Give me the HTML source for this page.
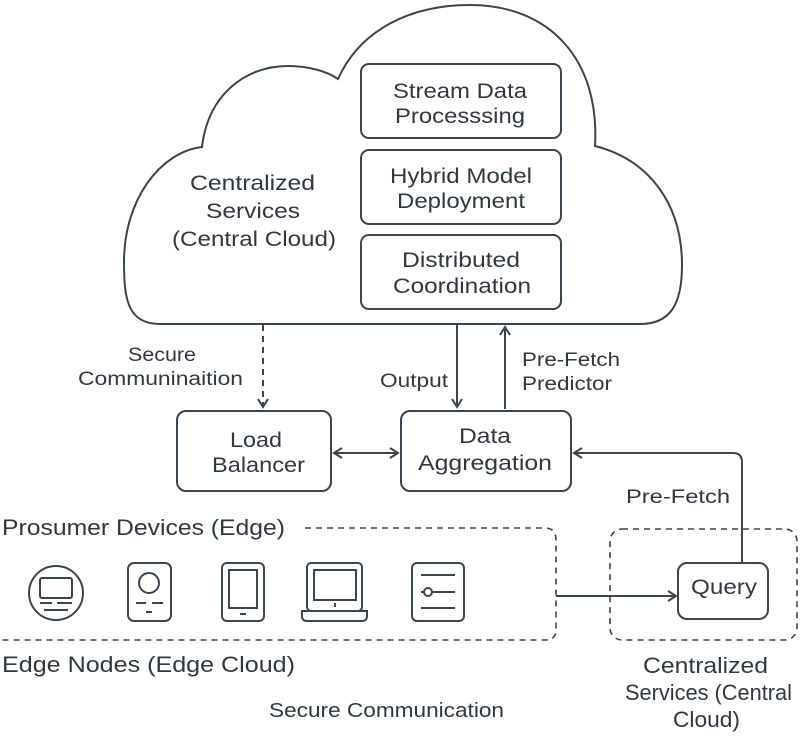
<!DOCTYPE html>
<html><head><meta charset="utf-8"><style>
html,body{margin:0;padding:0;background:#fff}
svg{display:block}
text{font-family:"Liberation Sans",sans-serif;fill:#2f3a40}
</style></head><body>
<svg width="800" height="739" viewBox="0 0 800 739" xmlns="http://www.w3.org/2000/svg">
<defs>
<marker id="a" markerWidth="12" markerHeight="12" refX="10" refY="6" orient="auto" markerUnits="userSpaceOnUse">
<path d="M2,1 L10,6 L2,11" fill="none" stroke="#3a464c" stroke-width="2"/>
</marker>
<marker id="as" markerWidth="12" markerHeight="12" refX="2" refY="6" orient="auto" markerUnits="userSpaceOnUse">
<path d="M10,1 L2,6 L10,11" fill="none" stroke="#3a464c" stroke-width="2"/>
</marker>
</defs>
<g fill="none" stroke="#3a464c" stroke-width="2">
<path d="M160,324 C128,324 124,300 124,262 C124,200 160,152 202,147 C208,95 245,66 288,66 C310,66 328,72 338,79 C360,30 410,5 470,5 C550,5 600,60 595,146 C650,160 682,205 682,265 C682,305 670,324 640,324 Z"/>
<rect x="361" y="64" width="200" height="74" rx="8"/>
<rect x="361" y="150" width="200" height="74" rx="8"/>
<rect x="361" y="235" width="200" height="74" rx="8"/>
<line x1="263" y1="325" x2="263" y2="407" stroke-dasharray="6,5" marker-end="url(#a)"/>
<line x1="457" y1="325" x2="457" y2="407" marker-end="url(#a)"/>
<line x1="505" y1="409" x2="505" y2="327" marker-end="url(#a)"/>
<rect x="177" y="411" width="154" height="80" rx="9"/>
<rect x="401" y="411" width="170" height="80" rx="9"/>
<line x1="334" y1="453" x2="398" y2="453" marker-start="url(#as)" marker-end="url(#a)"/>
<path d="M742,563 L742,462 Q742,453 733,453 L574,453" marker-end="url(#a)"/>
<path d="M305,528 L545,528 Q556,528 556,540 L556,630 Q556,640 545,640 L0,640" stroke-dasharray="6,5" stroke-width="1.6"/>
<rect x="610" y="529" width="187" height="111" rx="12" stroke-dasharray="6,5" stroke-width="1.6"/>
<rect x="678" y="563" width="90" height="56" rx="9"/>
<line x1="556" y1="596" x2="676" y2="596" marker-end="url(#a)"/>
<circle cx="56" cy="593" r="27"/>
<rect x="40" y="578" width="32" height="20" rx="2"/>
<line x1="40" y1="603" x2="52" y2="603"/><line x1="57" y1="603" x2="72" y2="603"/><line x1="44" y1="610" x2="68" y2="610"/>
<rect x="128" y="563" width="43" height="58" rx="6"/>
<circle cx="149" cy="583" r="10"/>
<line x1="136" y1="603" x2="146" y2="603"/><line x1="152" y1="603" x2="163" y2="603"/><line x1="146" y1="612" x2="152" y2="612"/>
<rect x="222" y="563" width="42" height="58" rx="5"/>
<rect x="229" y="570" width="28" height="38"/>
<line x1="240" y1="614" x2="246" y2="614"/>
<rect x="307" y="563" width="55" height="48" rx="4"/>
<rect x="314" y="570" width="42" height="30"/>
<line x1="335" y1="603" x2="335" y2="607"/>
<path d="M302,611 L367,611 L367,616 Q367,621 362,621 L307,621 Q302,621 302,616 Z"/>
<rect x="412" y="563" width="52" height="58" rx="5"/>
<line x1="421" y1="575" x2="455" y2="575"/><line x1="421" y1="592" x2="424" y2="592"/><circle cx="428" cy="592" r="4"/><line x1="432" y1="592" x2="455" y2="592"/><line x1="421" y1="608" x2="455" y2="608"/>
</g>
<g font-size="21">
<text x="393" y="98" textLength="134" lengthAdjust="spacingAndGlyphs">Stream Data</text>
<text x="395" y="123" textLength="130" lengthAdjust="spacingAndGlyphs">Processsing</text>
<text x="390" y="183" textLength="142" lengthAdjust="spacingAndGlyphs">Hybrid Model</text>
<text x="397" y="208" textLength="128" lengthAdjust="spacingAndGlyphs">Deployment</text>
<text x="402" y="267" textLength="118" lengthAdjust="spacingAndGlyphs">Distributed</text>
<text x="393" y="293" textLength="138" lengthAdjust="spacingAndGlyphs">Coordination</text>
<text x="190" y="190" textLength="125" lengthAdjust="spacingAndGlyphs">Centralized</text>
<text x="206" y="218" textLength="94" lengthAdjust="spacingAndGlyphs">Services</text>
<text x="172" y="246" textLength="164" lengthAdjust="spacingAndGlyphs">(Central Cloud)</text>
<text x="230" y="447" textLength="52" lengthAdjust="spacingAndGlyphs">Load</text>
<text x="212" y="472" textLength="93" lengthAdjust="spacingAndGlyphs">Balancer</text>
<text x="459" y="443" textLength="52" lengthAdjust="spacingAndGlyphs">Data</text>
<text x="418" y="470" textLength="134" lengthAdjust="spacingAndGlyphs">Aggregation</text>
<text x="691" y="594" textLength="66" lengthAdjust="spacingAndGlyphs">Query</text>
<text x="128" y="361" font-size="19" textLength="68" lengthAdjust="spacingAndGlyphs">Secure</text>
<text x="78" y="385" font-size="19" textLength="165" lengthAdjust="spacingAndGlyphs">Communinaition</text>
<text x="380" y="387" font-size="19" textLength="68" lengthAdjust="spacingAndGlyphs">Output</text>
<text x="522" y="366" font-size="19" textLength="98" lengthAdjust="spacingAndGlyphs">Pre-Fetch</text>
<text x="522" y="390" font-size="19" textLength="90" lengthAdjust="spacingAndGlyphs">Predictor</text>
<text x="626" y="503" font-size="19" textLength="104" lengthAdjust="spacingAndGlyphs">Pre-Fetch</text>
<text x="269" y="717" font-size="20" textLength="235" lengthAdjust="spacingAndGlyphs">Secure Communication</text>
<text x="2" y="535" font-size="22" textLength="283" lengthAdjust="spacingAndGlyphs">Prosumer Devices (Edge)</text>
<text x="2" y="672" font-size="22" textLength="293" lengthAdjust="spacingAndGlyphs">Edge Nodes (Edge Cloud)</text>
<text x="643" y="673" font-size="22" textLength="125" lengthAdjust="spacingAndGlyphs">Centralized</text>
<text x="625" y="700" font-size="22" textLength="167" lengthAdjust="spacingAndGlyphs">Services (Central</text>
<text x="673" y="727" font-size="22" textLength="67" lengthAdjust="spacingAndGlyphs">Cloud)</text>
</g>
</svg>
</body></html>
